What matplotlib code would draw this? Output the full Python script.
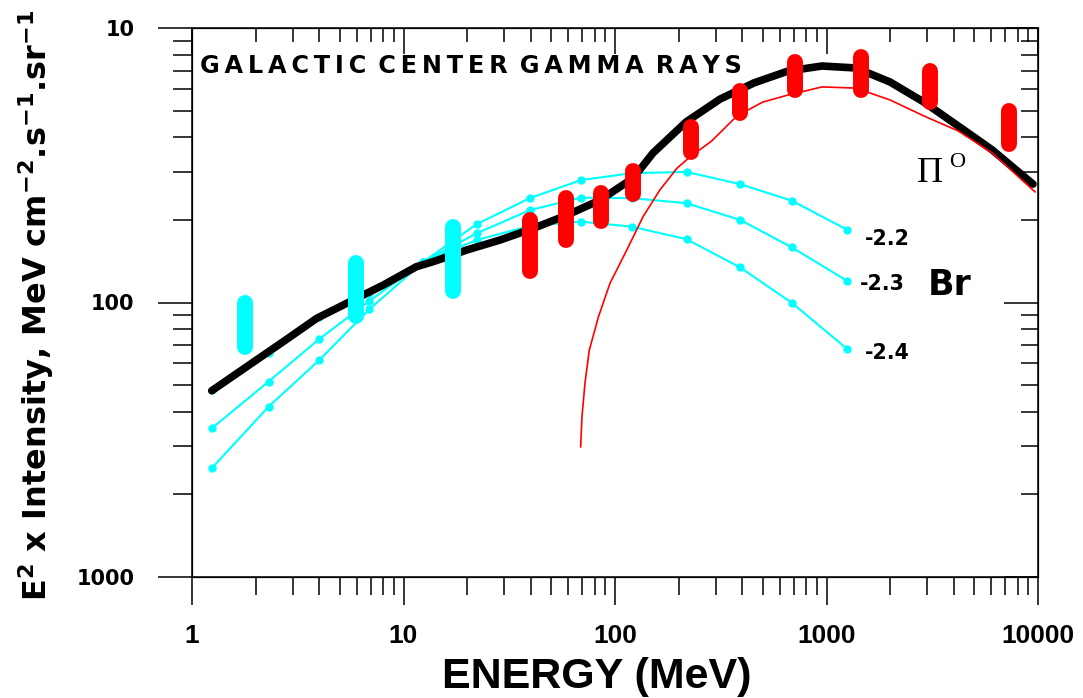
import matplotlib
matplotlib.use("Agg")
import matplotlib.pyplot as plt
from matplotlib.ticker import FixedLocator, FixedFormatter, LogLocator, NullFormatter

W, H = 1083, 698

# total spectrum (thick black line)
total_e = [1.24, 1.81, 2.70, 3.89, 5.58, 8.03, 11.5, 13.8, 19.9, 28.6, 41.1, 59.1, 84.9,
           122, 151, 217, 314, 454, 658, 952, 1378, 1995, 2890, 4185, 6065, 9470]
total_v = [4.77e-3, 5.83e-3, 7.20e-3, 8.76e-3, 1.007e-2, 1.158e-2, 1.35e-2, 1.408e-2,
           1.553e-2, 1.689e-2, 1.863e-2, 2.08e-2, 2.36e-2, 2.84e-2, 3.50e-2, 4.55e-2,
           5.51e-2, 6.31e-2, 6.97e-2, 7.27e-2, 7.15e-2, 6.36e-2, 5.37e-2, 4.40e-2,
           3.60e-2, 2.70e-2]

# pi0 decay component (thin red line)
pi_e = [68.8, 69.8, 72.1, 75.6, 83.5, 94.7, 113.5, 136, 163, 196, 226, 286, 377, 499,
        658, 952, 1378, 1995, 2890, 4185, 6065, 9680]
pi_v = [2.98e-3, 3.84e-3, 5.08e-3, 6.71e-3, 8.87e-3, 1.175e-2, 1.55e-2, 2.06e-2, 2.57e-2,
        3.08e-2, 3.39e-2, 3.87e-2, 4.78e-2, 5.37e-2, 5.70e-2, 6.10e-2, 6.04e-2, 5.47e-2,
        4.78e-2, 4.22e-2, 3.51e-2, 2.53e-2]

# bremsstrahlung curves for three spectral indices (cyan)
br_e = [1.24, 2.3, 4.0, 6.9, 12.4, 22.2, 39.6, 68.8, 120, 218, 390, 685, 1254]
br_22 = [4.80e-3, 6.55e-3, 8.86e-3, 1.083e-2, 1.405e-2, 1.93e-2, 2.40e-2, 2.79e-2,
         2.96e-2, 2.99e-2, 2.70e-2, 2.35e-2, 1.84e-2]
br_23 = [3.48e-3, 5.15e-3, 7.36e-3, 1.013e-2, 1.405e-2, 1.787e-2, 2.17e-2, 2.41e-2,
         2.40e-2, 2.30e-2, 2.00e-2, 1.589e-2, 1.198e-2]
br_24 = [2.49e-3, 4.17e-3, 6.17e-3, 9.45e-3, 1.405e-2, 1.689e-2, 1.90e-2, 1.97e-2,
         1.89e-2, 1.70e-2, 1.343e-2, 9.98e-3, 6.77e-3]
br_labels = ["-2.2", "-2.3", "-2.4"]

# measured ranges
cyan_e = [1.79, 5.96, 17.2]
cyan_lo = [6.89e-3, 8.93e-3, 1.10e-2]
cyan_hi = [9.96e-3, 1.393e-2, 1.88e-2]
red_e = [39.5, 58.8, 85.9, 122, 229, 389, 710, 1456, 3085, 7295]
red_lo = [1.30e-2, 1.69e-2, 1.98e-2, 2.49e-2, 3.53e-2, 4.91e-2, 5.92e-2, 5.92e-2, 5.37e-2, 3.79e-2]
red_hi = [1.99e-2, 2.40e-2, 2.51e-2, 3.01e-2, 4.36e-2, 5.88e-2, 7.50e-2, 7.82e-2, 6.95e-2, 4.98e-2]

x_ticks = [1, 10, 100, 1000, 10000]
y_ticks = [1e-3, 1e-2, 1e-1]
y_tick_labels = ["1000", "100", "10"]

plt.rcParams['mathtext.fontset'] = 'dejavusans'
plt.rcParams['mathtext.default'] = 'bf'

fig = plt.figure(figsize=(W / 100, H / 100), dpi=100)
ax = fig.add_axes([192 / W, 1 - 577 / H, 846 / W, 549 / H])

for ys in (br_22, br_23, br_24):
    ax.plot(br_e, ys, color='#00ffff', lw=1.5, marker='o', ms=6, mec='none', zorder=2)
ax.plot(total_e, total_v, color='black', lw=5.5, solid_capstyle='round',
        solid_joinstyle='round', zorder=3)
ax.plot(pi_e, pi_v, color='#ff0000', lw=1.2, zorder=4)
for e, lo, hi in zip(cyan_e, cyan_lo, cyan_hi):
    ax.plot([e, e], [lo, hi], color='#00ffff', lw=11.5, solid_capstyle='round', zorder=5)
for e, lo, hi in zip(red_e, red_lo, red_hi):
    ax.plot([e, e], [lo, hi], color='#ff0000', lw=11.5, solid_capstyle='round', zorder=5)

ax.set_xscale('log')
ax.set_yscale('log')
ax.set_xlim(1, 10000)
ax.set_ylim(1e-3, 1e-1)
ax.xaxis.set_major_locator(FixedLocator(x_ticks))
ax.xaxis.set_major_formatter(FixedFormatter([str(t) for t in x_ticks]))
ax.xaxis.set_minor_locator(LogLocator(base=10, subs=range(2, 10)))
ax.xaxis.set_minor_formatter(NullFormatter())
ax.yaxis.set_major_locator(FixedLocator(y_ticks))
ax.yaxis.set_major_formatter(FixedFormatter(y_tick_labels))
ax.yaxis.set_minor_locator(LogLocator(base=10, subs=range(2, 10)))
ax.yaxis.set_minor_formatter(NullFormatter())

for s in ax.spines.values():
    s.set_linewidth(1.1)
ax.tick_params(axis='x', which='major', direction='out', length=20, width=1.1, pad=14)
ax.tick_params(axis='x', which='minor', direction='out', length=13, width=1.1)
ax.tick_params(axis='y', which='major', direction='out', length=24.5, width=1.1, pad=17)
ax.tick_params(axis='y', which='minor', direction='out', length=13.7, width=1.1)
for lab in ax.get_xticklabels():
    lab.set_fontfamily('Liberation Sans')
    lab.set_fontweight('bold')
    lab.set_fontsize(19)
for lab in ax.get_yticklabels():
    lab.set_fontfamily('DejaVu Sans')
    lab.set_fontweight('bold')
    lab.set_fontsize(15)

# inward ticks on the top and right edges
axr = ax.twinx()
axr.set_yscale('log')
axr.set_ylim(ax.get_ylim())
axr.yaxis.set_major_locator(FixedLocator(y_ticks))
axr.yaxis.set_minor_locator(LogLocator(base=10, subs=range(2, 10)))
axr.tick_params(axis='y', which='major', direction='in', length=24.5, width=1.1, labelright=False)
axr.tick_params(axis='y', which='minor', direction='in', length=12.2, width=1.1, labelright=False)
axt = ax.twiny()
axt.set_xscale('log')
axt.set_xlim(ax.get_xlim())
axt.xaxis.set_major_locator(FixedLocator(x_ticks))
axt.xaxis.set_minor_locator(LogLocator(base=10, subs=range(2, 10)))
axt.tick_params(axis='x', which='major', direction='in', length=19, width=1.1, labeltop=False)
axt.tick_params(axis='x', which='minor', direction='in', length=10, width=1.1, labeltop=False)

# texts
words = ["GALACTIC", "CENTER", "GAMMA", "RAYS"]
title = "\u2002".join("\u200a\u200a".join(w) for w in words)
fig.text(200 / W, 1 - 73 / H, title, family='DejaVu Sans', weight='bold', fontsize=17.3,
         ha='left', va='baseline')

label_pos = [(887.5, 239), (882.5, 284.5), (887.5, 352.5)]
for lab, (px, py) in zip(br_labels, label_pos):
    fig.text(px / W, 1 - py / H, lab, family='DejaVu Sans', weight='bold', fontsize=14.8,
             ha='center', va='center')
fig.text(950 / W, 1 - 285 / H, "Br", family='DejaVu Sans', weight='bold', fontsize=25,
         ha='center', va='center')
fig.text(917 / W, 1 - 182 / H, "\u03a0", family='Liberation Serif', fontsize=26,
         ha='left', va='baseline')
fig.text(949 / W, 1 - 167 / H, "O", family='Liberation Serif', fontsize=16,
         ha='left', va='baseline')

fig.text(597 / W, 1 - 688 / H, "ENERGY (MeV)", family='Liberation Sans', weight='bold',
         fontsize=31, ha='center', va='baseline')
fig.text(36 / W, 1 - 305 / H, r"E$^2$ x Intensity, MeV cm$^{-2}$.s$^{-1}$.sr$^{-1}$",
         family='DejaVu Sans', weight='bold', fontsize=23, rotation=90,
         ha='center', va='center')

fig.savefig('out.png', dpi=100)
